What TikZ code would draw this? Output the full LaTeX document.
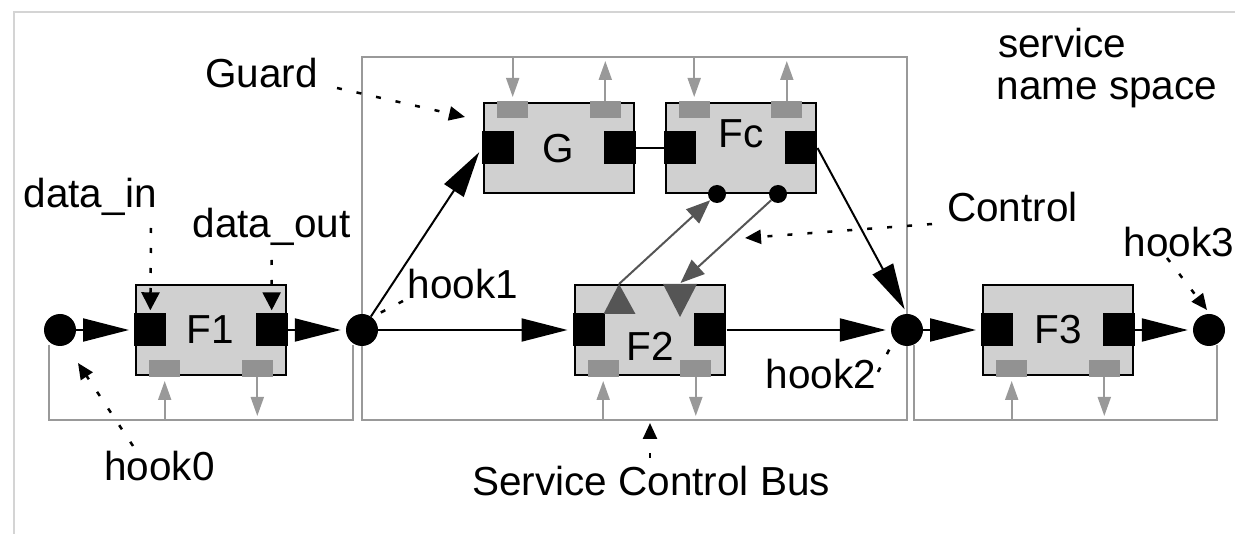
\documentclass[tikz,border=0pt]{standalone}
\usepackage{fontspec}
\setmainfont{Liberation Sans}
\usetikzlibrary{arrows.meta,calc}

\definecolor{framegray}{HTML}{D4D4D4}
\definecolor{busgray}{HTML}{999999}
\definecolor{portgray}{HTML}{929292}
\definecolor{boxfill}{HTML}{D0D0D0}
\definecolor{ctlgray}{HTML}{555555}

% a filter unit: body plus data ports on both sides
\newcommand\unitframe[2]{%
  \node[unitbox] (#1) at (#2) {};
  \node[dataport,anchor=west] (#1-in) at ($(#1.west)+(-1,0)$) {};
  \node[dataport,anchor=east] (#1-out) at ($(#1.east)+(1,0)$) {};
}
% control ports on the lower or upper edge
\newcommand\ctlbelow[1]{%
  \node[ctlport,anchor=south west] (#1-c1) at ($(#1.south west)+(14,1)$) {};
  \node[ctlport,anchor=south east] (#1-c2) at ($(#1.south east)+(-14,1)$) {};
}
\newcommand\ctlabove[1]{%
  \node[ctlport,anchor=north west] (#1-c1) at ($(#1.north west)+(14,-1)$) {};
  \node[ctlport,anchor=north east] (#1-c2) at ($(#1.north east)+(-14,-1)$) {};
}

\begin{document}
\begin{tikzpicture}[x=1pt,y=-1pt,
  font=\fontsize{40.5}{42.7}\selectfont,
  unitbox/.style={draw=black,line width=2pt,fill=boxfill,minimum width=150pt,minimum height=90pt,inner sep=0pt},
  dataport/.style={fill=black,minimum width=32pt,minimum height=33pt,inner sep=0pt},
  ctlport/.style={fill=portgray,minimum width=31pt,minimum height=17pt,inner sep=0pt},
  hook/.style={circle,fill=black,minimum size=32pt,inner sep=0pt},
  dot/.style={circle,fill=black,minimum size=18pt,inner sep=0pt},
  flow/.style={line width=2pt,-{Triangle[length=46pt,width=23pt]},shorten >=5pt},
  bus/.style={draw=busgray,line width=2pt},
  busarrow/.style={busgray,line width=2pt,-{Triangle[length=19pt,width=13pt]},shorten >=4pt},
  ctlflow/.style={ctlgray,line width=2pt,-{Triangle[length=24pt,width=19pt]}},
  noteline/.style={line width=2.5pt,dash pattern=on 5pt off 15pt},
  note/.style={noteline,-{Triangle[length=16pt,width=14pt]}},
  bignote/.style={noteline,-{Triangle[length=18pt,width=18pt]},shorten >=3pt},
  notext/.style={anchor=base west,inner sep=0pt},
  unittext/.style={inner sep=0pt}
]
\useasboundingbox (0,0) rectangle (1235,534);

% panel edges
\draw[framegray,line width=1.4pt] (14,534) -- (14,12) -- (1235,12);

% local buses and the service control bus
\coordinate (busA1) at (49,345);  \coordinate (busA2) at (49,420);
\coordinate (busA3) at (353,420); \coordinate (busA4) at (353,345);
\draw[bus] (busA1) -- (busA2) -- (busA3) -- (busA4);
\coordinate (scbNW) at (362,57);  \coordinate (scbSE) at (907,420);
\draw[bus] (scbNW) rectangle (scbSE);
\coordinate (busC1) at (914,345);  \coordinate (busC2) at (914,420);
\coordinate (busC3) at (1217,420); \coordinate (busC4) at (1217,345);
\draw[bus] (busC1) -- (busC2) -- (busC3) -- (busC4);

% filter units
\unitframe{F1}{211,330}
\ctlbelow{F1}
\unitframe{G}{559,148}
\ctlabove{G}
\unitframe{Fc}{740.5,148}
\ctlabove{Fc}
\unitframe{F2}{649.5,330}
\ctlbelow{F2}
\unitframe{F3}{1058,330}
\ctlbelow{F3}

% control port connections to the buses
\draw[busarrow] (F1-c1 |- busA2) -- (F1-c1.south);
\draw[busarrow] (F1-c2.south) -- (F1-c2 |- busA2);
\draw[busarrow] (F2-c1 |- scbSE) -- (F2-c1.south);
\draw[busarrow] (F2-c2.south) -- (F2-c2 |- scbSE);
\draw[busarrow] (F3-c1 |- busC2) -- (F3-c1.south);
\draw[busarrow] (F3-c2.south) -- (F3-c2 |- busC2);
\draw[busarrow] (G-c1 |- scbNW) -- (G-c1.north);
\draw[busarrow] (G-c2.north) -- (G-c2 |- scbNW);
\draw[busarrow] (Fc-c1 |- scbNW) -- (Fc-c1.north);
\draw[busarrow] (Fc-c2.north) -- (Fc-c2 |- scbNW);

% hooks
\node[hook] (h0) at (60,330) {};
\node[hook] (h1) at (362,330) {};
\node[hook] (h2) at (907,330) {};
\node[hook] (h3) at (1209,330) {};

% data flow
\draw[flow] (h0) -- (F1-in);
\draw[flow] (F1-out) -- (h1);
\draw[flow] (h1) -- (F2-in);
\draw[flow] (h1) -- (G-in.west);
\draw[line width=2pt] (G-out) -- (Fc-in);
\draw[flow] (Fc-out.east) -- (h2.north);
\draw[flow] (F2-out) -- (h2);
\draw[flow] (h2) -- (F3-in);
\draw[flow] (F3-out) -- (h3);

% control channel between Fc and F2
\coordinate (F2-up) at (619,284);
\coordinate (F2-dn) at (680.5,283);
\fill[ctlgray] (F2-up) -- (635.5,314) -- (603.5,314) -- cycle;
\fill[ctlgray] (663,284) -- (697,284) -- (680,317) -- cycle;
\node[dot] (Fc-d1) at ($(Fc.south)+(-23.5,0)$) {};
\node[dot] (Fc-d2) at ($(Fc.south)+(37.5,0)$) {};
\draw[ctlflow] (F2-up) -- (Fc-d1);
\draw[ctlflow] (Fc-d2) -- (F2-dn);

% unit names
\node[unittext] (F1-name) at (210,330) {F1};
\node[unittext] (G-name) at (558,149) {G};
\node[unittext] (Fc-name) at (741,134) {Fc};
\node[unittext] (F2-name) at (650,346) {F2};
\node[unittext] (F3-name) at (1058,330) {F3};

% annotations
\node[notext] (lGuard) at (205,88) {Guard};
\node[notext] (lDin) at (23.5,208) {data\_in};
\node[notext] (lDout) at (192.5,237.5) {data\_out};
\node[notext] (lH0) at (104,480.7) {hook0};
\node[notext] (lH1) at (407.5,299) {hook1};
\node[notext] (lH2) at (765.5,389) {hook2};
\node[notext] (lH3) at (1123.5,256.7) {hook3};
\node[notext] (lCtl) at (947,221.7) {Control};
\node[notext] (lSvc) at (997.8,57.3) {service};
\node[notext] (lNs) at (996.3,100) {name space};
\node[notext] (lScb) at (472,496) {Service Control Bus};

\coordinate (nGuard) at (337,88);   \coordinate (tGuard) at (465,117);
\coordinate (nDin) at (151,228);
\coordinate (nDout) at (271.5,260);
\coordinate (nH0) at (133,446);     \coordinate (tH0) at (78,363);
\coordinate (nH1) at (403,301);     \coordinate (tH1) at (376,315);
\coordinate (nH2) at (878,372);     \coordinate (tH2) at (891,346);
\coordinate (nH3) at (1167,258);    \coordinate (tH3) at (1207,310);
\coordinate (nCtl) at (932,224);    \coordinate (tCtl) at (745,238);
\coordinate (nScb) at (650,458);    \coordinate (tScb) at (650,423);

\draw[note] (nGuard) -- (tGuard);
\draw[bignote] (nDin) -- (F1-in);
\draw[bignote] (nDout) -- (F1-out);
\draw[note] (nH0) -- (tH0);
\draw[noteline] (nH1) -- (tH1);
\draw[noteline] (nH2) -- (tH2);
\draw[note] (nH3) -- (tH3);
\draw[note] (nCtl) -- (tCtl);
\draw[note] (nScb) -- (tScb);
\end{tikzpicture}
\end{document}
